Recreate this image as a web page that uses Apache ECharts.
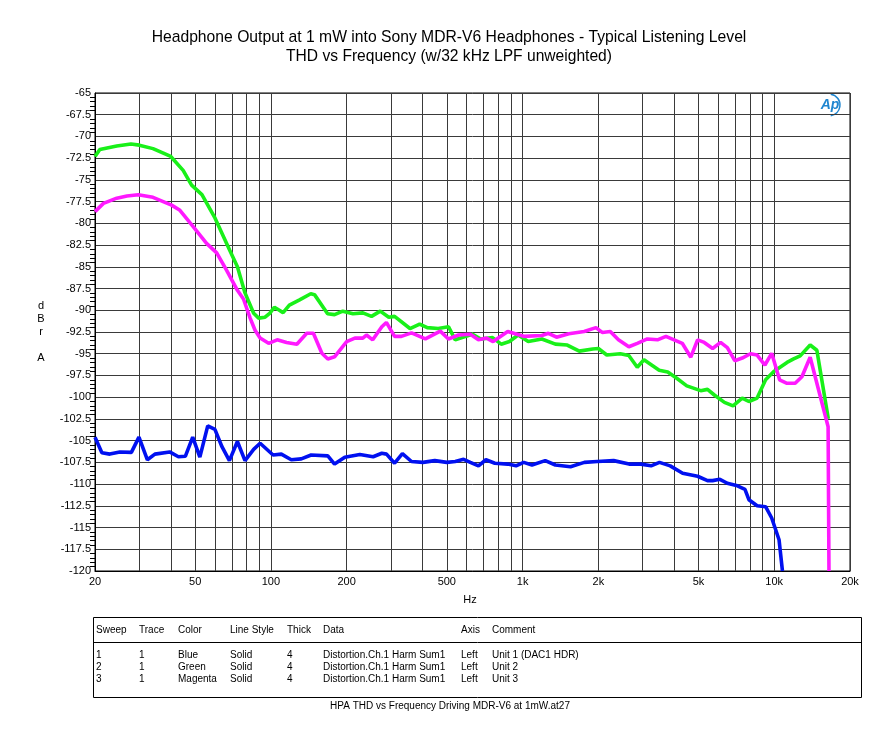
<!DOCTYPE html>
<html>
<head>
<meta charset="utf-8">
<script src="https://cdn.jsdelivr.net/npm/echarts@6/dist/echarts.min.js"></script>
<style>html,body{margin:0;padding:0;background:#fff;}#c{width:873px;height:732px;}</style>
</head>
<body>
<div id="c"></div>
<script>
// ---- data ----
const blueFreq = [20,21.3,22.9,25.1,27.9,29.9,32.3,34.6,39.6,42.9,45.7,48.9,52.2,56.1,59.9,63.9,68.4,73.6,78.9,85.4,90.6,102,110,120.5,132,144.5,168.3,179,196.6,225.6,254.8,275.9,288,310,333,362,402,448,500,540,583,620,668,715,776,873,942,1010,1090,1230,1350,1550,1760,1980,2300,2650,2950,3240,3500,3860,4325,4960,5430,5690,6080,6510,7140,7650,7930,8550,9240,9770,10450,10780];
const blueDb = [-104.6,-106.4,-106.55,-106.3,-106.35,-104.6,-107.2,-106.55,-106.3,-106.85,-106.8,-104.6,-106.9,-103.3,-103.7,-105.7,-107.3,-105.1,-107.3,-106.0,-105.3,-106.65,-106.55,-107.2,-107.1,-106.65,-106.75,-107.7,-106.9,-106.6,-106.85,-106.45,-106.55,-107.6,-106.5,-107.4,-107.5,-107.3,-107.5,-107.4,-107.15,-107.5,-107.9,-107.2,-107.6,-107.7,-107.9,-107.5,-107.8,-107.3,-107.8,-108.0,-107.5,-107.4,-107.3,-107.7,-107.7,-107.9,-107.5,-107.9,-108.75,-109.1,-109.6,-109.6,-109.45,-109.9,-110.2,-110.6,-111.8,-112.5,-112.6,-113.9,-116.4,-120];

const greenFreq = [20,20.9,24.4,27.8,30,34,40,44.8,48.4,53.2,60,68.6,73.6,78.9,85.4,89.4,94.8,98.9,103.2,107.6,111.8,118.4,130,144,149,168,179,193,212,232,251,272,294,310,357,390,418,462,508,540,567,631,682,760,822,887,960,1053,1193,1350,1505,1680,1900,2000,2161,2446,2643,2856,3036,3490,3774,4085,4493,5100,5430,5780,6340,6860,7460,7930,8550,9240,9960,11240,11940,12680,13890,14770,16400];
const greenDb = [-72.3,-71.5,-71.1,-70.87,-71.0,-71.4,-72.3,-73.9,-75.6,-76.7,-79.4,-83.1,-85.0,-88.0,-90.35,-90.9,-90.8,-90.35,-89.65,-89.97,-90.27,-89.4,-88.8,-88.1,-88.2,-90.4,-90.5,-90.1,-90.4,-90.3,-90.7,-90.1,-90.8,-90.7,-92.1,-91.6,-92.0,-92.1,-91.9,-93.4,-93.2,-92.75,-93.3,-93.15,-93.9,-93.6,-92.85,-93.6,-93.3,-93.9,-94.0,-94.7,-94.45,-94.4,-95.15,-95.0,-95.2,-96.55,-95.7,-96.9,-97.1,-97.8,-98.7,-99.25,-99.1,-99.75,-100.6,-101.0,-100.1,-100.5,-100.1,-98.0,-97.05,-96.0,-95.6,-95.25,-94.0,-94.6,-102.5];

const magentaFreq = [20,21.6,24.4,26.8,29.7,34,40.3,43.5,49.2,55.5,60.9,66.7,73.6,77.8,82.7,86.5,90.6,97.9,105.9,115.4,126.8,138.8,147.5,159.4,168.3,179,200,215.6,231.9,239.7,253.8,275.9,287.6,310,330,362,411,471,507.6,557,620,668,719,764,873,1010,1193,1267,1364,1527,1757,1957,2072,2231,2404,2643,2856,3131,3436,3713,4310,4660,4960,5270,5690,6120,6510,6970,7460,8040,8550,9180,9770,10500,11240,12110,12880,13890,16370,16500];
const magentaDb = [-78.65,-77.7,-77.1,-76.85,-76.7,-77.0,-77.9,-78.5,-80.4,-82.3,-83.4,-85.4,-87.7,-88.7,-90.9,-92.3,-93.2,-93.8,-93.4,-93.7,-93.9,-92.65,-92.65,-94.95,-95.6,-95.35,-93.6,-93.2,-93.2,-92.85,-93.4,-91.9,-91.4,-93.0,-93.0,-92.6,-93.3,-92.4,-93.3,-92.85,-92.75,-93.4,-93.2,-93.6,-92.45,-93.0,-92.9,-92.65,-93.1,-92.7,-92.45,-92.0,-92.55,-92.45,-93.4,-94.2,-93.8,-93.3,-93.4,-93.0,-93.8,-95.4,-93.4,-93.7,-94.4,-93.7,-94.3,-95.8,-95.5,-95.0,-95.15,-96.3,-94.95,-98.0,-98.4,-98.4,-97.65,-95.4,-103.4,-120];

const xGridValues = [20,30,40,50,60,70,80,90,100,200,300,400,500,600,700,800,900,1000,2000,3000,4000,5000,6000,7000,8000,9000,10000,20000];
const xLabelValues = [20,50,100,200,500,1000,2000,5000,10000,20000];
const xLabelText = {20:'20',50:'50',100:'100',200:'200',500:'500',1000:'1k',2000:'2k',5000:'5k',10000:'10k',20000:'20k'};

const tableHeader = ['Sweep','Trace','Color','Line Style','Thick','Data','Axis','Comment'];
const tableRows = [
  ['1','1','Blue','Solid','4','Distortion.Ch.1 Harm Sum1','Left','Unit 1 (DAC1 HDR)'],
  ['2','1','Green','Solid','4','Distortion.Ch.1 Harm Sum1','Left','Unit 2'],
  ['3','1','Magenta','Solid','4','Distortion.Ch.1 Harm Sum1','Left','Unit 3']
];

// ---- build ----
const pair = (fs, ds) => fs.map((f, i) => [f, ds[i]]);
const FONT = '"Liberation Sans", Arial, sans-serif';
const colX = [96, 139, 178, 230, 287, 323, 461, 492];
const rowY = [655, 667, 679];

const graphics = [];
graphics.push({type:'text', x:449, y:38, style:{text:'Headphone Output at 1 mW into Sony MDR-V6 Headphones - Typical Listening Level', font:'15.7px '+FONT, fill:'#000', align:'center', verticalAlign:'middle'}});
graphics.push({type:'text', x:449, y:57, style:{text:'THD vs Frequency (w/32 kHz LPF unweighted)', font:'15.6px '+FONT, fill:'#000', align:'center', verticalAlign:'middle'}});
graphics.push({type:'text', x:41, y:300, style:{text:'d\nB\nr\n\nA', font:'11px '+FONT, fill:'#000', align:'center', verticalAlign:'top', lineHeight:12.8}});
graphics.push({type:'text', x:470, y:600, style:{text:'Hz', font:'11px '+FONT, fill:'#000', align:'center', verticalAlign:'middle'}});
// legend table
graphics.push({type:'rect', shape:{x:93.5, y:617.5, width:768, height:80}, style:{fill:'none', stroke:'#000', lineWidth:1}});
graphics.push({type:'line', shape:{x1:93.5, y1:642.5, x2:861.5, y2:642.5}, style:{stroke:'#000', lineWidth:1}});
tableHeader.forEach((t, i) => graphics.push({type:'text', x:colX[i], y:630, style:{text:t, font:'10px '+FONT, fill:'#000', align:'left', verticalAlign:'middle'}}));
tableRows.forEach((r, j) => r.forEach((t, i) => graphics.push({type:'text', x:colX[i], y:rowY[j], style:{text:t, font:'10px '+FONT, fill:'#000', align:'left', verticalAlign:'middle'}})));
graphics.push({type:'text', x:450, y:706, style:{text:'HPA THD vs Frequency Driving MDR-V6 at 1mW.at27', font:'10px '+FONT, fill:'#000', align:'center', verticalAlign:'middle'}});
// Ap logo
graphics.push({type:'text', x:830, y:105, style:{text:'Ap', font:'italic bold 14px '+FONT, fill:'#1f86d0', align:'center', verticalAlign:'middle'}});
graphics.push({type:'arc', shape:{cx:829, cy:105, r:11, startAngle:-Math.PI*0.45, endAngle:Math.PI*0.45}, style:{stroke:'#1f86d0', lineWidth:1.5, fill:'none'}});

const lineSeries = (name, color, fs, ds) => ({
  name, type:'line', data: pair(fs, ds), showSymbol:false, symbol:'none',
  lineStyle:{color, width:3.6}, itemStyle:{color}, animation:false, clip:true, z:3
});

const chart = echarts.init(document.getElementById('c'), null, {renderer:'canvas'});
chart.setOption({
  backgroundColor:'#fff',
  animation:false,
  grid:{left:95, right:23, top:93, bottom:161, show:true, borderColor:'#000', borderWidth:1, containLabel:false},
  xAxis:{
    type:'log', logBase:10, min:20, max:20000,
    axisLine:{show:true, lineStyle:{color:'#000', width:1}},
    axisTick:{show:false, customValues:xGridValues},
    axisLabel:{customValues:xLabelValues, formatter:v => xLabelText[Math.round(v)] || String(v), fontFamily:FONT, fontSize:11, color:'#000', margin:5},
    splitLine:{show:true, lineStyle:{color:'#3a3a3a', width:1}},
    minorTick:{show:false}, minorSplitLine:{show:false}
  },
  yAxis:{
    type:'value', min:-120, max:-65, interval:2.5,
    axisLine:{show:true, lineStyle:{color:'#000', width:1}},
    axisTick:{show:false},
    minorTick:{show:true, splitNumber:5, length:5, lineStyle:{color:'#000', width:1}},
    axisLabel:{fontFamily:FONT, fontSize:11, color:'#000', margin:4, showMinLabel:true, showMaxLabel:true},
    splitLine:{show:true, lineStyle:{color:'#3a3a3a', width:1}}
  },
  series:[
    lineSeries('Blue', '#0010f0', blueFreq, blueDb),
    lineSeries('Green', '#19f019', greenFreq, greenDb),
    lineSeries('Magenta', '#ff19ff', magentaFreq, magentaDb)
  ],
  graphic: graphics
});
</script>
</body>
</html>
